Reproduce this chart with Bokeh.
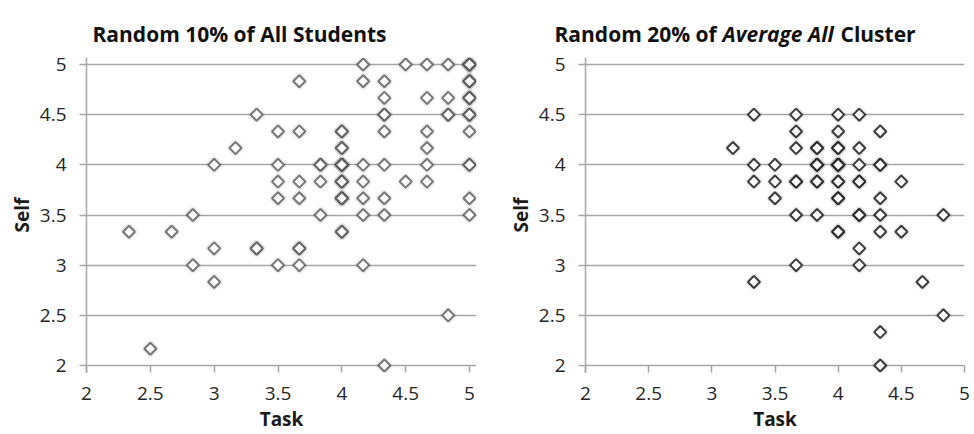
from bokeh.plotting import figure
from bokeh.layouts import row, column
from bokeh.models import Range1d, Label, FixedTicker
from bokeh.embed import file_html
from bokeh.resources import INLINE
import numpy as np

# ---------------- data ----------------
tick_values = [2, 2.5, 3, 3.5, 4, 4.5, 5]
tick_labels = ["2", "2.5", "3", "3.5", "4", "4.5", "5"]

left_title = "Random 10% of All Students"
right_title_parts = ["Random 20% of", "Average All", "Cluster"]
x_label = "Task"
y_label = "Self"

# Random 10% of all students (Task, Self); repeated pairs are overlapping students
all_task = [4.167, 4.5, 4.667, 4.833, 5, 5, 5, 5,
            3.667, 4.167, 4.333, 5, 5, 5,
            4.333, 4.667, 4.833, 5, 5, 5,
            3.333, 4.333, 4.333, 4.833, 4.833, 5, 5, 5,
            3.5, 3.667, 4, 4, 4.333, 4.667, 5,
            3.167, 4, 4, 4.667,
            3, 3.5, 3.833, 3.833, 4, 4, 4, 4, 4.167, 4.333, 4.667, 5, 5,
            3.5, 3.667, 3.833, 4, 4, 4, 4.167, 4.5, 4.667,
            3.5, 3.667, 4, 4, 4, 4.167, 4.333, 5,
            2.833, 3.833, 4.167, 4.333, 5,
            2.333, 2.667, 4, 4,
            3, 3.333, 3.333, 3.667, 3.667,
            2.833, 3.5, 3.667, 4.167,
            3,
            4.833,
            2.5,
            4.333]
all_self = [5, 5, 5, 5, 5, 5, 5, 5,
            4.833, 4.833, 4.833, 4.833, 4.833, 4.833,
            4.667, 4.667, 4.667, 4.667, 4.667, 4.667,
            4.5, 4.5, 4.5, 4.5, 4.5, 4.5, 4.5, 4.5,
            4.333, 4.333, 4.333, 4.333, 4.333, 4.333, 4.333,
            4.167, 4.167, 4.167, 4.167,
            4, 4, 4, 4, 4, 4, 4, 4, 4, 4, 4, 4, 4,
            3.833, 3.833, 3.833, 3.833, 3.833, 3.833, 3.833, 3.833, 3.833,
            3.667, 3.667, 3.667, 3.667, 3.667, 3.667, 3.667, 3.667,
            3.5, 3.5, 3.5, 3.5, 3.5,
            3.333, 3.333, 3.333, 3.333,
            3.167, 3.167, 3.167, 3.167, 3.167,
            3, 3, 3, 3,
            2.833,
            2.5,
            2.167,
            2]

# Random 20% of the "Average All" cluster
avg_task = [3.333, 3.667, 4, 4.167,
            3.667, 4, 4.333,
            3.167, 3.667, 3.833, 3.833, 4, 4, 4.167,
            3.333, 3.5, 3.833, 3.833, 3.833, 4, 4, 4, 4, 4.167, 4.333, 4.333,
            3.333, 3.5, 3.667, 3.667, 3.833, 3.833, 4, 4, 4.167, 4.167, 4.5,
            3.5, 4, 4, 4.333,
            3.667, 3.833, 4.167, 4.167, 4.333, 4.833,
            4, 4, 4.333, 4.5,
            4.167,
            3.667, 4.167,
            3.333, 4.667,
            4.833,
            4.333,
            4.333]
avg_self = [4.5, 4.5, 4.5, 4.5,
            4.333, 4.333, 4.333,
            4.167, 4.167, 4.167, 4.167, 4.167, 4.167, 4.167,
            4, 4, 4, 4, 4, 4, 4, 4, 4, 4, 4, 4,
            3.833, 3.833, 3.833, 3.833, 3.833, 3.833, 3.833, 3.833, 3.833, 3.833, 3.833,
            3.667, 3.667, 3.667, 3.667,
            3.5, 3.5, 3.5, 3.5, 3.5, 3.5,
            3.333, 3.333, 3.333, 3.333,
            3.167,
            3, 3,
            2.833, 2.833,
            2.5,
            2.333,
            2]

FONT = "Open Sans"
GRID = "#a6a6a6"
SPAN_PY = 301.0      # pixels for 3 units on y
PAD = 7              # pixel padding so edge markers are not cut
STRIP_H = 50         # height of the title strip
FIG_H = 434 - STRIP_H


def make_panel(xs, ys, min_left, span_px, pad_right, min_right, mcolor, malpha, lw):
    lo, hi = tick_values[0], tick_values[-1]
    span = hi - lo
    pad_y = PAD * span / SPAN_PY
    pad_x = pad_right * span / span_px
    frame_w = int(round(span_px + pad_right))
    frame_h = int(round(SPAN_PY + 2 * PAD))
    top = 64 - PAD - STRIP_H
    p = figure(width=min_left + frame_w + min_right, height=FIG_H,
               output_backend="svg", toolbar_location=None,
               x_range=Range1d(lo, hi + pad_x),
               y_range=Range1d(lo - pad_y, hi + pad_y),
               min_border_left=min_left, min_border_right=min_right,
               min_border_top=top, min_border_bottom=FIG_H - top - frame_h)
    p.outline_line_color = None
    p.background_fill_color = "white"
    p.border_fill_color = "white"
    p.xgrid.grid_line_color = None
    p.ygrid.grid_line_color = GRID
    p.ygrid.grid_line_width = 1.5
    p.ygrid.ticker = FixedTicker(ticks=tick_values)

    for ax in (p.xaxis[0], p.yaxis[0]):
        ax.ticker = FixedTicker(ticks=tick_values)
        ax.major_label_overrides = {v: t for v, t in zip(tick_values, tick_labels)}
        ax.axis_line_color = GRID
        ax.axis_line_width = 1.5
        ax.major_tick_line_color = GRID
        ax.major_tick_line_width = 1.5
        ax.minor_tick_line_color = None
        ax.major_label_text_font = FONT
        ax.major_label_text_font_size = "19px"
        ax.major_label_text_color = "#262626"
        ax.axis_label_text_font = FONT
        ax.axis_label_text_font_size = "19px"
        ax.axis_label_text_font_style = "bold"
        ax.axis_label_text_color = "#1a1a1a"
    # x axis: the y=2 gridline is the visible axis line; ticks hang below it
    p.xaxis.axis_line_color = None
    p.xaxis.major_tick_in = PAD
    p.xaxis.major_tick_out = 0
    p.xaxis.major_label_standoff = 14
    p.xaxis.axis_label = x_label
    p.xaxis.axis_label_standoff = 3
    p.yaxis.major_tick_in = 0
    p.yaxis.major_tick_out = 7
    p.yaxis.major_label_standoff = 13
    p.yaxis.axis_label = y_label
    p.yaxis.axis_label_standoff = 2

    # soft halo like the original's shadowed markers
    p.scatter(xs, ys, marker="square", size=9, angle=np.pi / 4,
              fill_color=None, line_color="#000000", line_alpha=0.07, line_width=5)
    p.scatter(xs, ys, marker="square", size=8.5, angle=np.pi / 4,
              fill_color="white", line_color=mcolor, line_alpha=malpha, line_width=lw)
    return p


p1 = make_panel(all_task, all_self, 86, 383.0, PAD, 11, "#454545", 0.72, 2)
p2 = make_panel(avg_task, avg_self, 98, 379.0, 0, 10, "#1a1a1a", 0.85, 2)

# title strip: a bare canvas holding both titles as real text
strip = figure(width=974, height=STRIP_H, output_backend="svg", toolbar_location=None,
               x_range=Range1d(0, 974), y_range=Range1d(0, STRIP_H),
               min_border=0)
strip.axis.visible = False
strip.grid.grid_line_color = None
strip.outline_line_color = None

baseline = STRIP_H - 33
title_x = [92, 554, 722, 840]
title_txt = [left_title] + right_title_parts
title_sty = ["bold", "bold", "bold italic", "bold"]
for txt, xx, st in zip(title_txt, title_x, title_sty):
    strip.add_layout(Label(x=xx, y=baseline, x_units="screen", y_units="screen",
                           text=txt, text_font=FONT, text_font_size="21px",
                           text_font_style=st, text_color="#111111",
                           text_baseline="alphabetic"))

layout = column(strip, row(p1, p2))
open("out.html", "w").write(file_html(layout, INLINE))
